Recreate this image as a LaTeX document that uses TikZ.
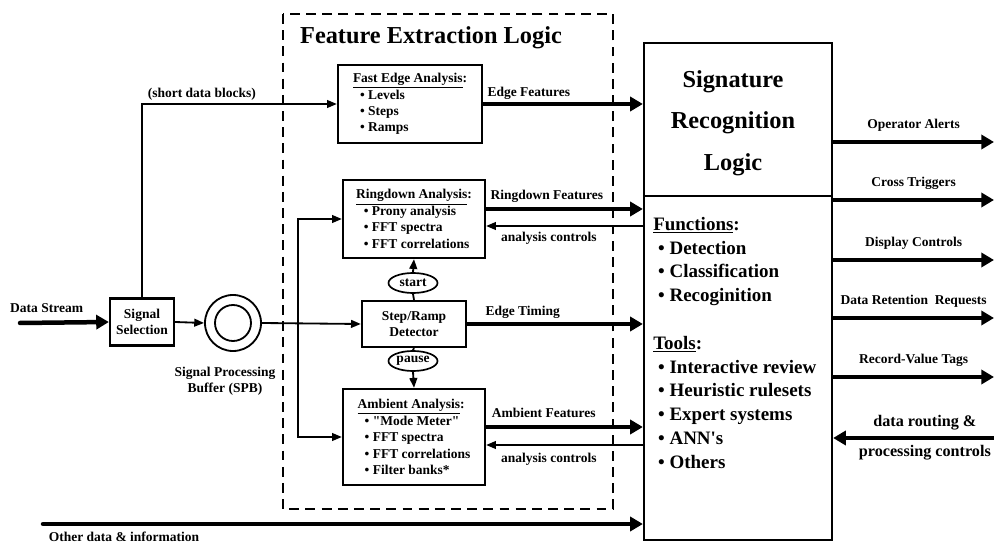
\documentclass[tikz,border=0pt]{standalone}
\usepackage{fontspec}
\setmainfont{Liberation Serif}
\usetikzlibrary{arrows.meta, calc, positioning, shapes.geometric}

\newcommand\boxfont{\fontsize{9.6}{11.7}\selectfont\bfseries}
\newcommand\bigfont{\fontsize{17.3}{29.5}\selectfont\bfseries}
\newcommand\listfont{\fontsize{13.5}{16.9}\selectfont\bfseries}
\newcommand\ctlfont{\fontsize{11.5}{21.3}\selectfont\bfseries}

\tikzset{
  blk/.style={draw, line width=1.6pt, align=left, font=\boxfont, inner sep=0pt},
  tagbox/.style={draw, ellipse, line width=1.2pt, minimum width=1.225cm,
    minimum height=0.5cm, inner sep=0pt, font=\boxfont},
  sig/.style={line width=1.3pt, -{Triangle[length=7pt,width=5.5pt]}},
  bus/.style={line width=3.2pt, -{Triangle[length=9pt,width=10pt]}},
  lbl/.style={font=\boxfont, inner sep=1.5pt, text depth=0pt},
}

\begin{document}
\begin{tikzpicture}[x=0.025cm, y=-0.025cm]
  \useasboundingbox (0,0) rectangle (994,544);
  % ---- input side ----
  \node[blk, align=center, minimum width=1.6cm, minimum height=1.175cm] (sel) at (142,322) {Signal\\Selection};
  \node[draw, circle, line width=1.3pt, minimum size=1.4cm] (spb) at (233,323) {};
  \node[draw, circle, line width=1.3pt, minimum size=0.9cm] (spbcore) at (spb) {};
  \node[lbl, align=center] (spbname) at (225,380) {Signal Processing\\Buffer (SPB)};

  % ---- feature extraction logic ----
  \draw[line width=1.4pt, dash pattern=on 7pt off 4.5pt] (283,14) rectangle (613,509);
  \node[font=\bigfont] (fel) at (431,38) {Feature Extraction Logic};
  \node[blk, minimum width=3.6cm, minimum height=1.95cm] (fea) at (410,104)
    {\underline{Fast Edge Analysis}:\\ \hspace*{5pt}• Levels\\ \hspace*{5pt}• Steps\\ \hspace*{5pt}• Ramps};
  \node[blk, minimum width=3.55cm, minimum height=1.95cm] (rda) at (414,219)
    {\underline{Ringdown Analysis}:\\ \hspace*{5.5pt}• Prony analysis\\ \hspace*{5.5pt}• FFT spectra\\ \hspace*{5.5pt}• FFT correlations};
  \node[blk, align=center, minimum width=2.6cm, minimum height=1.15cm] (det) at (414,324) {Step/Ramp\\Detector};
  \node[tagbox] (start) at (413,283) {start};
  \node[tagbox] (pause) at (413,361) {pause};
  \node[blk, minimum width=3.55cm, minimum height=2.4cm] (amb) at (414,437)
    {\underline{Ambient Analysis}:\\ \hspace*{5pt}• \textquotedbl Mode Meter\textquotedbl\\ \hspace*{5pt}• FFT spectra\\ \hspace*{5pt}• FFT correlations\\ \hspace*{5pt}• Filter banks*};

  % ---- signature recognition logic ----
  \node[draw, line width=1.6pt, minimum width=4.7cm, minimum height=12.425cm] (srl) at (738,291.5) {};
  \draw[line width=0.8pt] (srl.west |- 0,196) -- (srl.east |- 0,196);
  \node[font=\bigfont, align=center] (srlname) at (733,123) {Signature\\Recognition\\Logic};
  \node[font=\listfont, align=left, anchor=north west, inner sep=0pt] (srllist) at (653,217)
    {\underline{Functions}:\\ \hspace*{3.5pt}• Detection\\ \hspace*{3.5pt}• Classification\\ \hspace*{3.5pt}• Recoginition\\[16.9pt]
     \underline{Tools}:\\ \hspace*{3.5pt}• Interactive review\\ \hspace*{3.5pt}• Heuristic rulesets\\ \hspace*{3.5pt}• Expert systems\\
     \hspace*{3.5pt}• ANN\textquotesingle s\\ \hspace*{3.5pt}• Others};

  % ---- input connectors ----
  \coordinate (dsin) at (20,323);
  \draw[bus, line cap=round] (dsin) -- node[lbl, above=4.5pt, pos=0.3] {Data Stream} (sel.west);
  \draw[sig] (sel.east) -- (spb.west);
  \draw[sig] (sel.north) |- node[lbl, pos=0.5, above right=2.4pt and 2pt] {(short data blocks)} (fea.west);
  \draw[sig] (spb.east) -- (det.west);
  \coordinate (fork) at (298,323);
  \draw[sig] (fork) |- (rda.west);
  \draw[sig] (fork) |- (amb.west);
  \draw[line width=1.3pt] (det.north) -- (start.south);
  \draw[sig] (start.north) -- (rda.south);
  \draw[line width=1.3pt] (det.south) -- (pause.north);
  \draw[sig] (pause.south) -- (amb.north);

  % ---- features into recognition ----
  \coordinate (rdaout) at ($(rda.east)+(0,-10)$);
  \coordinate (rdain) at ($(rda.east)+(0,7)$);
  \coordinate (ambout) at ($(amb.east)+(0,-10)$);
  \coordinate (ambin) at ($(amb.east)+(0,8)$);
  \draw[bus] (fea.east) -- node[lbl, pos=0, above right=2.4pt and 0pt] {Edge Features} (fea.east -| srl.west);
  \draw[bus] (rdaout) -- node[lbl, pos=0, above right=3.8pt and 0pt] {Ringdown Features} (rdaout -| srl.west);
  \draw[sig] (rdain -| srl.west) -- node[lbl, pos=0.6, below=2.3pt] {analysis controls} (rdain);
  \draw[bus] (det.east) -- node[lbl, pos=0.08, above right=3.1pt and 0pt] {Edge Timing} (det.east -| srl.west);
  \draw[bus] (ambout) -- node[lbl, pos=0, above right=3.8pt and 1pt] {Ambient Features} (ambout -| srl.west);
  \draw[sig] (ambin -| srl.west) -- node[lbl, pos=0.6, below=3.7pt] {analysis controls} (ambin);
  \coordinate (odin) at (43,524);
  \draw[bus, line cap=round] (odin) -- node[lbl, pos=0, below right=2.6pt and 1pt] {Other data \& information} (odin -| srl.west);

  % ---- outputs ----
  \foreach \y/\txt [count=\i] in {142/Operator Alerts, 200/Cross Triggers, 260/Display Controls,
      318/Data Retention\ \ Requests, 377/Record-Value Tags} {
    \coordinate (out\i) at (994,\y);
    \draw[bus] (srl.east |- out\i) -- node[lbl, above=6.2pt] {\txt} (out\i);
  }
  \coordinate (ctlin) at (994,438);
  \draw[bus] (ctlin) -- node[font=\ctlfont, align=center, pos=0.43] {data routing \&\\processing controls} (ctlin -| srl.east);
\end{tikzpicture}
\end{document}
